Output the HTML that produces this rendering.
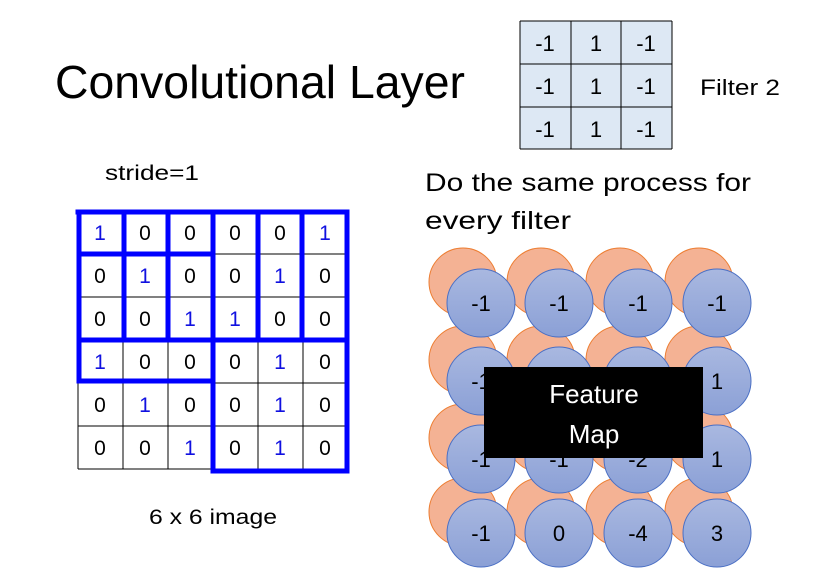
<!DOCTYPE html>
<html><head><meta charset="utf-8"><style>
html,body{margin:0;padding:0;background:#fff;}
svg{display:block;}
text{font-family:"Liberation Sans",sans-serif;}
</style></head><body>
<svg width="828" height="588" viewBox="0 0 828 588" xmlns="http://www.w3.org/2000/svg">
<text x="55" y="98" font-size="46" textLength="410" lengthAdjust="spacingAndGlyphs" fill="#000">Convolutional Layer</text>
<!-- filter -->
<rect x="520" y="21" width="152" height="128" fill="#dde8f4"/>
<g stroke="#000" stroke-width="1">
<line x1="520" y1="21" x2="672" y2="21"/><line x1="520" y1="64" x2="672" y2="64"/><line x1="520" y1="107" x2="672" y2="107"/><line x1="520" y1="149" x2="672" y2="149"/>
<line x1="520" y1="21" x2="520" y2="149"/><line x1="571" y1="21" x2="571" y2="149"/><line x1="621" y1="21" x2="621" y2="149"/><line x1="672" y1="21" x2="672" y2="149"/>
</g>
<g font-size="22" text-anchor="middle" fill="#000">
<text x="545" y="51">-1</text><text x="596" y="51">1</text><text x="646" y="51">-1</text>
<text x="545" y="94">-1</text><text x="596" y="94">1</text><text x="646" y="94">-1</text>
<text x="545" y="137">-1</text><text x="596" y="137">1</text><text x="646" y="137">-1</text>
</g>
<text x="700" y="95" font-size="22" fill="#000" textLength="80" lengthAdjust="spacingAndGlyphs">Filter 2</text>
<text x="105" y="180" font-size="21" fill="#000" textLength="94" lengthAdjust="spacingAndGlyphs">stride=1</text>
<text x="425" y="191" font-size="25" fill="#000" textLength="326" lengthAdjust="spacingAndGlyphs">Do the same process for</text>
<text x="425" y="229" font-size="25" fill="#000" textLength="146" lengthAdjust="spacingAndGlyphs">every filter</text>
<!-- grid thin -->
<g stroke="#000" stroke-width="1">
<line x1="78" y1="254" x2="348" y2="254"/><line x1="78" y1="297" x2="348" y2="297"/><line x1="78" y1="383" x2="348" y2="383"/><line x1="78" y1="426" x2="348" y2="426"/><line x1="78" y1="469" x2="348" y2="469"/>
<line x1="78" y1="211" x2="78" y2="469"/><line x1="123" y1="211" x2="123" y2="469"/><line x1="168" y1="211" x2="168" y2="469"/><line x1="258" y1="211" x2="258" y2="469"/><line x1="303" y1="211" x2="303" y2="469"/>
</g>
<g font-size="21" text-anchor="middle">
<text x="100" y="240" fill="#1010e0">1</text><text x="145" y="240">0</text><text x="190" y="240">0</text><text x="235" y="240">0</text><text x="280" y="240">0</text><text x="325" y="240" fill="#1010e0">1</text>
<text x="100" y="283">0</text><text x="145" y="283" fill="#1010e0">1</text><text x="190" y="283">0</text><text x="235" y="283">0</text><text x="280" y="283" fill="#1010e0">1</text><text x="325" y="283">0</text>
<text x="100" y="326">0</text><text x="145" y="326">0</text><text x="190" y="326" fill="#1010e0">1</text><text x="235" y="326" fill="#1010e0">1</text><text x="280" y="326">0</text><text x="325" y="326">0</text>
<text x="100" y="369" fill="#1010e0">1</text><text x="145" y="369">0</text><text x="190" y="369">0</text><text x="235" y="369">0</text><text x="280" y="369" fill="#1010e0">1</text><text x="325" y="369">0</text>
<text x="100" y="412">0</text><text x="145" y="412" fill="#1010e0">1</text><text x="190" y="412">0</text><text x="235" y="412">0</text><text x="280" y="412" fill="#1010e0">1</text><text x="325" y="412">0</text>
<text x="100" y="455">0</text><text x="145" y="455">0</text><text x="190" y="455" fill="#1010e0">1</text><text x="235" y="455">0</text><text x="280" y="455" fill="#1010e0">1</text><text x="325" y="455">0</text>
</g>
<!-- thick blue -->
<g stroke="#0000ff" stroke-width="5" stroke-linecap="square" fill="none">
<line x1="78" y1="212" x2="347" y2="212"/>
<line x1="79" y1="212" x2="79" y2="381"/>
<line x1="79" y1="254" x2="212" y2="254"/>
<line x1="124" y1="212" x2="124" y2="340"/>
<line x1="168" y1="212" x2="168" y2="340"/>
<line x1="213" y1="212" x2="213" y2="471"/>
<line x1="258" y1="212" x2="258" y2="340"/>
<line x1="302" y1="212" x2="302" y2="340"/>
<line x1="347" y1="212" x2="347" y2="471"/>
<line x1="79" y1="340" x2="347" y2="340"/>
<line x1="79" y1="381" x2="213" y2="381"/>
<line x1="213" y1="471" x2="347" y2="471"/>
</g>
<text x="213" y="524" font-size="21" text-anchor="middle" textLength="128" lengthAdjust="spacingAndGlyphs">6 x 6 image</text>
<!-- circles -->
<defs><linearGradient id="bg" x1="0" y1="0" x2="0" y2="1"><stop offset="0" stop-color="#a9b8e0"/><stop offset="1" stop-color="#8ba0d6"/></linearGradient></defs>
<g stroke="#ed7d31" stroke-width="1" fill="#f4b294">
<circle cx="463" cy="282" r="34"/><circle cx="541" cy="282" r="34"/><circle cx="620" cy="282" r="34"/><circle cx="699" cy="282" r="34"/>
<circle cx="463" cy="360" r="34"/><circle cx="541" cy="360" r="34"/><circle cx="620" cy="360" r="34"/><circle cx="699" cy="360" r="34"/>
<circle cx="463" cy="438" r="34"/><circle cx="541" cy="438" r="34"/><circle cx="620" cy="438" r="34"/><circle cx="699" cy="438" r="34"/>
<circle cx="463" cy="512" r="34"/><circle cx="541" cy="512" r="34"/><circle cx="620" cy="512" r="34"/><circle cx="699" cy="512" r="34"/>
</g>
<g stroke="#4a6fc4" stroke-width="1" fill="url(#bg)">
<circle cx="481" cy="303" r="34"/><circle cx="559" cy="303" r="34"/><circle cx="638" cy="303" r="34"/><circle cx="717" cy="303" r="34"/>
<circle cx="481" cy="381" r="34"/><circle cx="559" cy="381" r="34"/><circle cx="638" cy="381" r="34"/><circle cx="717" cy="381" r="34"/>
<circle cx="481" cy="459" r="34"/><circle cx="559" cy="459" r="34"/><circle cx="638" cy="459" r="34"/><circle cx="717" cy="459" r="34"/>
<circle cx="481" cy="533" r="34"/><circle cx="559" cy="533" r="34"/><circle cx="638" cy="533" r="34"/><circle cx="717" cy="533" r="34"/>
</g>
<g font-size="22" text-anchor="middle" fill="#000">
<text x="481" y="311">-1</text><text x="559" y="311">-1</text><text x="638" y="311">-1</text><text x="717" y="311">-1</text>
<text x="481" y="389">-1</text><text x="717" y="389">1</text>
<text x="481" y="467">-1</text><text x="559" y="467">-1</text><text x="638" y="467">-2</text><text x="717" y="467">1</text>
<text x="481" y="541">-1</text><text x="559" y="541">0</text><text x="638" y="541">-4</text><text x="717" y="541">3</text>
</g>
<rect x="484" y="367" width="219" height="91" fill="#000"/>
<g font-size="26" text-anchor="middle" fill="#fff">
<text x="594" y="403">Feature</text><text x="594" y="443">Map</text>
</g>
</svg>
</body></html>
